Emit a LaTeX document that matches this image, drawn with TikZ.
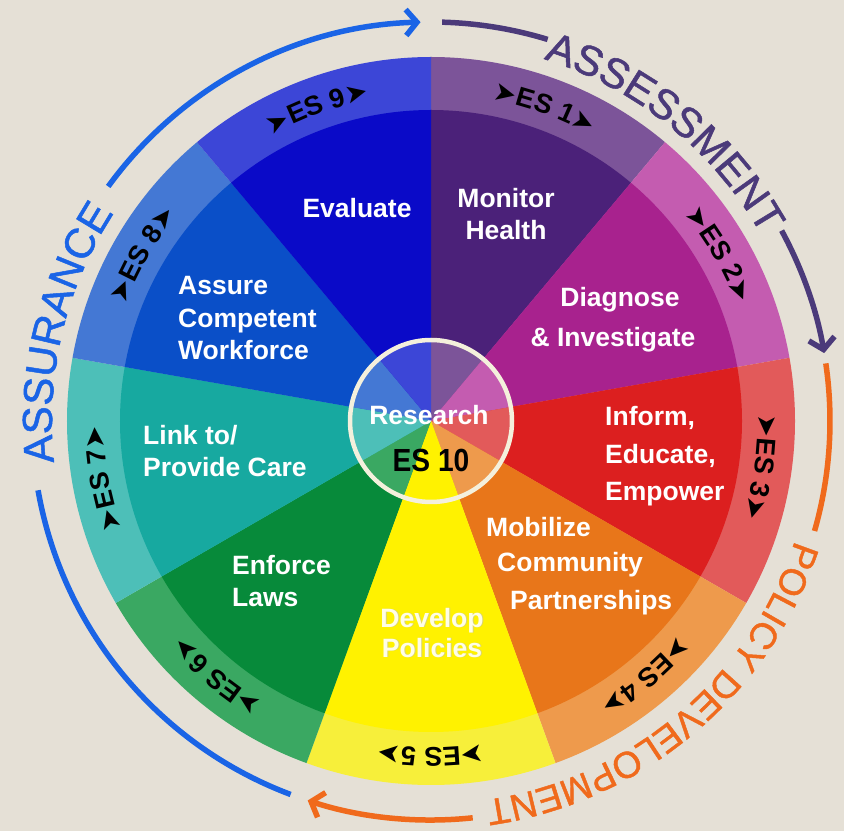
\documentclass[tikz,border=0pt]{standalone}
\usepackage{fontspec}
\setmainfont{Liberation Sans}
\newfontfamily\dejavu{DejaVu Sans}
\newfontfamily\arcfam[FakeBold=1.2]{Liberation Sans}
\usetikzlibrary{decorations.text,arrows.meta}

\definecolor{bg}{HTML}{E5E0D6}
\definecolor{mainA}{HTML}{4B2179}\definecolor{bandA}{HTML}{7C5499}
\definecolor{mainB}{HTML}{A8228E}\definecolor{bandB}{HTML}{C45CB0}
\definecolor{mainC}{HTML}{DC1F1F}\definecolor{bandC}{HTML}{E25A5A}
\definecolor{mainD}{HTML}{E8761A}\definecolor{bandD}{HTML}{EE9A4C}
\definecolor{mainE}{HTML}{FFF200}\definecolor{bandE}{HTML}{F7EF3A}
\definecolor{mainF}{HTML}{078A3A}\definecolor{bandF}{HTML}{3AA862}
\definecolor{mainG}{HTML}{17A9A0}\definecolor{bandG}{HTML}{4DBFB8}
\definecolor{mainH}{HTML}{0A4FC8}\definecolor{bandH}{HTML}{4478D4}
\definecolor{mainI}{HTML}{0A0AC8}\definecolor{bandI}{HTML}{3C46D7}
\definecolor{assblue}{HTML}{1A64E6}
\definecolor{asspurple}{HTML}{4B3A7A}
\definecolor{polorange}{HTML}{F06A1C}
\definecolor{ringcream}{HTML}{F4F0DC}

\newcommand\arcfont{\arcfam\fontsize{42}{42}\selectfont}
\newcommand\polfont{\arcfam\fontsize{37}{37}\selectfont}
\newcommand\esfont{\fontsize{27}{27}\selectfont\bfseries}
\newcommand\arrfont{\dejavu\fontsize{27}{27}\selectfont}
\newcommand\wsector[4]{\fill[#4] (0,0) -- (#1:#3) arc[start angle=#1, end angle=#2, radius=#3] -- cycle;}

\tikzset{
  lbl/.style={text=white, font=\fontsize{26.5}{26.5}\selectfont\bfseries, inner sep=0pt},
  arcline/.style={line width=5.5pt},
  barb/.style={-{Straight Barb[length=11pt, width=26pt]}},
}

\begin{document}
\begin{tikzpicture}[x=1pt,y=1pt]
\useasboundingbox (0,0) rectangle (844,831);
\fill[bg] (0,0) rectangle (844,831);

\begin{scope}[shift={(431,410)}]
  % outer band
  \foreach \a/\b/\c in {50/90/bandA,10/50/bandB,-30/10/bandC,-70/-30/bandD,-110/-70/bandE,-150/-110/bandF,170/210/bandG,130/170/bandH,90/130/bandI}
    {\wsector{\a}{\b}{364}{\c}}
  % main wedges
  \foreach \a/\b/\c in {50/90/mainA,10/50/mainB,-30/10/mainC,-70/-30/mainD,-110/-70/mainE,-150/-110/mainF,170/210/mainG,130/170/mainH,90/130/mainI}
    {\wsector{\a}{\b}{311}{\c}}
  % centre disc
  \foreach \a/\b/\c in {50/90/bandA,10/50/bandB,-30/10/bandC,-70/-30/bandD,-110/-70/mainE,-150/-110/bandF,170/210/bandG,130/170/bandH,90/130/bandI}
    {\wsector{\a}{\b}{80}{\c}}
  \draw[ringcream, line width=4.5pt] (0,0) circle[radius=81];

  % ES band labels
  \path[decorate, decoration={text along path, text align=center, text={|\arrfont|➤|\esfont|ES 1|\arrfont|➤}}] (100:327) arc[start angle=100, end angle=40, radius=327];
  \path[decorate, decoration={text along path, text align=center, text={|\arrfont|➤|\esfont|ES 2|\arrfont|➤}}] (60:327) arc[start angle=60, end angle=0, radius=327];
  \path[decorate, decoration={text along path, text align=center, text={|\arrfont|➤|\esfont|ES 3|\arrfont|➤}}] (22:327) arc[start angle=22, end angle=-38, radius=327];
  \path[decorate, decoration={text along path, text align=center, text={|\arrfont|➤|\esfont|ES 4|\arrfont|➤}}] (-20:327) arc[start angle=-20, end angle=-80, radius=327];
  \path[decorate, decoration={text along path, text align=center, text={|\arrfont|➤|\esfont|ES 5|\arrfont|➤}}] (-60:327) arc[start angle=-60, end angle=-120, radius=327];
  \path[decorate, decoration={text along path, text align=center, text={|\arrfont|➤|\esfont|ES 6|\arrfont|➤}}] (-100:327) arc[start angle=-100, end angle=-160, radius=327];
  \path[decorate, decoration={text along path, text align=center, text={|\arrfont|➤|\esfont|ES 7|\arrfont|➤}}] (220:327) arc[start angle=220, end angle=160, radius=327];
  \path[decorate, decoration={text along path, text align=center, text={|\arrfont|➤|\esfont|ES 8|\arrfont|➤}}] (180:327) arc[start angle=180, end angle=120, radius=327];
  \path[decorate, decoration={text along path, text align=center, text={|\arrfont|➤|\esfont|ES 9|\arrfont|➤}}] (140:327) arc[start angle=140, end angle=80, radius=327];

  % outer arcs
  \draw[assblue, arcline] (249.4:399) arc[start angle=249.4, end angle=190, radius=399];
  \draw[assblue, arcline, barb] (144:399) arc[start angle=144, end angle=91.5, radius=399];
  \draw[asspurple, arcline] (88.4:399) arc[start angle=88.4, end angle=73, radius=399];
  \draw[asspurple, arcline, barb] (28.5:399) arc[start angle=28.5, end angle=9.8, radius=399];
  \draw[polorange, arcline] (8.3:399) arc[start angle=8.3, end angle=-16, radius=399];
  \draw[polorange, arcline, barb] (-84:399) arc[start angle=-84, end angle=-108, radius=399];

  % arc texts
  \path[decorate, decoration={text along path, text align=center, text={|\arcfont\color{assblue}|ASSURANCE}}] (210:379) arc[start angle=210, end angle=123, radius=379];
  \path[decorate, decoration={text along path, text align=center, text={|\arcfont\color{asspurple}|ASSESSMENT}}] (95:379) arc[start angle=95, end angle=7, radius=379];
  \path[decorate, decoration={text along path, text align=center, text={|\polfont\color{polorange}|POLICY DEVELOPMENT}}] (-5:383) arc[start angle=-5, end angle=-95, radius=383];
\end{scope}

% segment labels
\node[lbl, anchor=base] (ev) at (357,613) {Evaluate};
\node[lbl, anchor=base] (mh1) at (506,623) {Monitor};
\node[lbl, anchor=base] (mh2) at (506,591) {Health};
\node[lbl, anchor=base] (di1) at (620,524) {Diagnose};
\node[lbl, anchor=base] (di2) at (613,484) {\& Investigate};
\node[lbl, anchor=base west] (in1) at (605,405) {Inform,};
\node[lbl, anchor=base west] (in2) at (605,367) {Educate,};
\node[lbl, anchor=base west] (in3) at (605,330) {Empower};
\node[lbl, anchor=base west] (mo1) at (486,294) {Mobilize};
\node[lbl, anchor=base west] (mo2) at (497,259) {Community};
\node[lbl, anchor=base west] (mo3) at (510,221) {Partnerships};
\node[lbl, anchor=base, text=black!25, opacity=0.6] (dp1s) at (433,203) {Develop};
\node[lbl, anchor=base, text=black!25, opacity=0.6] (dp2s) at (433,173) {Policies};
\node[lbl, anchor=base, text=white!90!yellow] (dp1) at (432,204) {Develop};
\node[lbl, anchor=base, text=white!90!yellow] (dp2) at (432,174) {Policies};
\node[lbl, anchor=base west] (en1) at (232,256) {Enforce};
\node[lbl, anchor=base west] (en2) at (232,224) {Laws};
\node[lbl, anchor=base west] (li1) at (143,386) {Link to/};
\node[lbl, anchor=base west] (li2) at (143,354) {Provide Care};
\node[lbl, anchor=base west] (as1) at (178,536) {Assure};
\node[lbl, anchor=base west] (as2) at (178,503) {Competent};
\node[lbl, anchor=base west] (as3) at (178,471) {Workforce};
\node[lbl, anchor=base] (re) at (429,406) {Research};
\node[lbl, anchor=base, text=black, font=\fontsize{32}{32}\selectfont\bfseries] (es10) at (431,359) {\scalebox{0.88}[1]{ES 10}};
\end{tikzpicture}
\end{document}
